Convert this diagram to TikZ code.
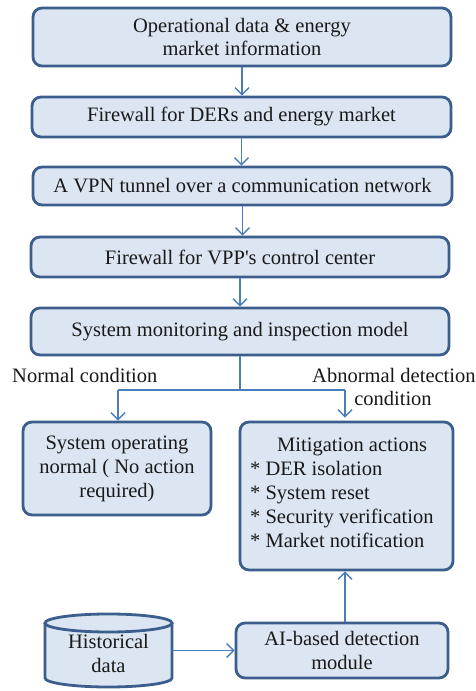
\documentclass[tikz,border=0pt]{standalone}
\usepackage{fontspec}
\setmainfont{Liberation Serif}
\newfontfamily\plainq{Liberation Serif}
\usetikzlibrary{arrows.meta}
\definecolor{boxfill}{HTML}{DCE6F2}
\definecolor{boxline}{HTML}{3B5E8C}
\definecolor{arrowc}{HTML}{4A7EBB}
\tikzset{
  box/.style={draw=boxline, fill=boxfill, line width=2.8pt, rounded corners=9pt, align=center, inner sep=2pt},
  txt/.style={font=\fontsize{20.5}{24}\selectfont, text=black!90},
  conn/.style={draw=arrowc, line width=1.4pt, -{Straight Barb[length=7pt,width=14pt,line width=1.4pt]}},
  plainconn/.style={draw=arrowc, line width=1.4pt},
}
\begin{document}
\begin{tikzpicture}[x=1pt,y=1pt]
\useasboundingbox (0,0) rectangle (475,691);
% main chain
\node[box, txt, font=\fontsize{20.5}{22.5}\selectfont, minimum width=418pt, minimum height=58pt] (b1) at (242,654) {Operational data \& energy\\market information};
\node[box, txt, minimum width=419pt, minimum height=40pt] (b2) at (241.5,574) {Firewall for DERs and energy market};
\node[box, txt, minimum width=419pt, minimum height=38pt] (b3) at (242.5,505) {A VPN tunnel over a communication network};
\node[box, txt, minimum width=418pt, minimum height=40pt] (b4) at (240,434) {Firewall for VPP{\plainq '}s control center};
\node[box, txt, minimum width=418pt, minimum height=47pt] (b5) at (240,359.5) {System monitoring and inspection model};
% outcomes
\node[box, txt, minimum width=188pt, minimum height=93pt] (norm) at (117,222.5) {System operating\\normal ( No action\\required)};
\node[box, minimum width=213pt, minimum height=148pt] (mit) at (346.5,195) {};
\node[txt, anchor=north west, align=left, inner sep=0pt] (mittxt) at (250,253) {\hspace*{27pt}Mitigation actions\\* DER isolation\\* System reset\\* Security verification\\* Market notification};
\node[box, txt, minimum width=212pt, minimum height=55pt] (ai) at (342,40.5) {AI-based detection\\module};
% cylinder
\fill[boxfill] (45,68) -- (45,13) arc[start angle=180,end angle=360,x radius=63.5,y radius=9] -- (172,68) arc[start angle=0,end angle=180,x radius=63.5,y radius=9] -- cycle;
\draw[boxline, line width=2.8pt] (45,68) -- (45,13) arc[start angle=180,end angle=360,x radius=63.5,y radius=9] -- (172,68);
\draw[boxline, line width=2.8pt] (108.5,68) ellipse[x radius=63.5,y radius=9];
\node[txt, align=center] (hist) at (108.5,38) {Historical\\data};
% labels
\node[txt, anchor=west, inner sep=0pt] (lnorm) at (12,316) {Normal condition};
\node[txt, anchor=west, inner sep=0pt] (labn) at (312,316) {Abnormal detection};
\node[txt, inner sep=0pt] (labn2) at (393,293) {condition};
% connectors
\draw[conn] (b1.south) -- (b1.south |- b2.north);
\draw[conn] (b2.south) -- (b2.south |- b3.north);
\draw[conn] (b3.south) -- (b3.south |- b4.north);
\draw[conn] (b4.south) -- (b4.south |- b5.north);
\coordinate (split) at (240,301);
\coordinate (sl) at (118,301);
\coordinate (sr) at (345,301);
\coordinate (cylr) at (172,40.5);
\draw[plainconn] (b5.south) -- (split);
\draw[plainconn] (sl) -- (sr);
\draw[conn] (sl) -- (sl |- norm.north);
\draw[conn] (sr) -- ([yshift=3pt]sr |- mit.north);
\draw[conn] (ai.north -| sr) -- (sr |- mit.south);
\draw[conn] (cylr) -- (ai.west);
\end{tikzpicture}
\end{document}
